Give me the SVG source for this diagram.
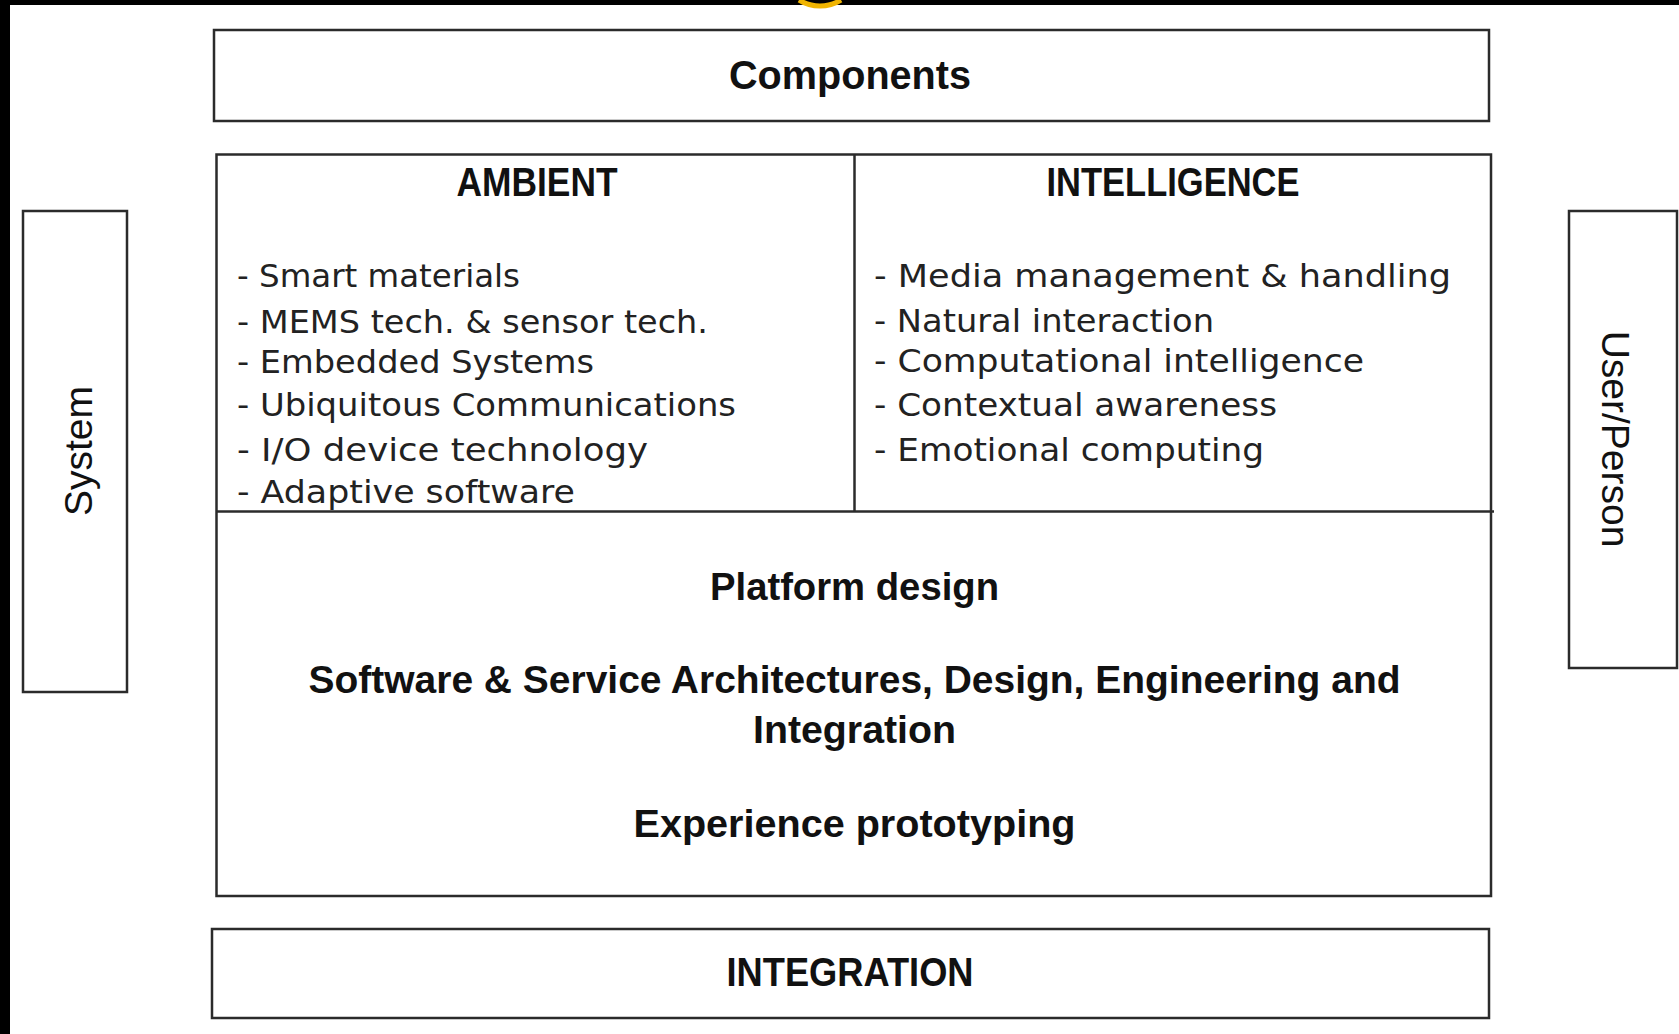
<svg xmlns="http://www.w3.org/2000/svg" width="1679" height="1034" viewBox="0 0 1679 1034">
  <style>
    .box { fill: #ffffff; stroke: #2b2b2b; stroke-width: 2.5; }
    .line { stroke: #2b2b2b; stroke-width: 2.5; fill: none; }
    .head { font-family: "Liberation Sans", Arial, sans-serif; font-weight: bold; font-size: 40px; fill: #111111; text-anchor: middle; }
    .mid { font-family: "Liberation Sans", Arial, sans-serif; font-weight: bold; font-size: 39px; fill: #111111; text-anchor: middle; }
    .item { font-family: "DejaVu Sans", sans-serif; font-size: 32px; fill: #222222; }
    .side { font-family: "Liberation Sans", Arial, sans-serif; font-size: 39px; fill: #111111; text-anchor: middle; }
  </style>
  <rect x="0" y="0" width="1679" height="1034" fill="#ffffff"/>
  <g id="frame">
    <rect x="0" y="0" width="1679" height="5" fill="#000000"/>
    <rect x="0" y="0" width="10" height="1034" fill="#000000"/>
    <path d="M 799 0 A 40 40 0 0 0 841 0" fill="none" stroke="#f0b400" stroke-width="5"/>
  </g>

  <g id="components">
    <rect class="box" x="214" y="30" width="1275" height="91"/>
    <text class="head" x="850" y="89" textLength="242" lengthAdjust="spacingAndGlyphs">Components</text>
  </g>

  <g id="system">
    <rect class="box" x="23" y="211" width="104" height="481"/>
    <text class="side" transform="translate(92,451) rotate(-90)">System</text>
  </g>

  <g id="user-person">
    <rect class="box" x="1569" y="211" width="108" height="457"/>
    <text class="side" transform="translate(1602,439) rotate(90)">User/Person</text>
  </g>

  <g id="main-platform">
    <rect class="box" x="216.5" y="154.5" width="1274.5" height="741.5"/>
    <line class="line" x1="216.5" y1="511.5" x2="1494" y2="511.5"/>
    <line class="line" x1="854.5" y1="154.5" x2="854.5" y2="511.5"/>
  </g>

  <g id="ambient">
    <text class="head" x="537" y="196" textLength="161" lengthAdjust="spacingAndGlyphs">AMBIENT</text>
    <text class="item" x="237" y="287" textLength="283" lengthAdjust="spacingAndGlyphs">- Smart materials</text>
    <text class="item" x="237" y="333" textLength="471" lengthAdjust="spacingAndGlyphs">- MEMS tech. &amp; sensor tech.</text>
    <text class="item" x="237" y="373" textLength="357" lengthAdjust="spacingAndGlyphs">- Embedded Systems</text>
    <text class="item" x="237" y="416" textLength="499" lengthAdjust="spacingAndGlyphs">- Ubiquitous Communications</text>
    <text class="item" x="237" y="461" textLength="411" lengthAdjust="spacingAndGlyphs">- I/O device technology</text>
    <text class="item" x="237" y="503" textLength="338" lengthAdjust="spacingAndGlyphs">- Adaptive software</text>
  </g>

  <g id="intelligence">
    <text class="head" x="1173" y="196" textLength="253" lengthAdjust="spacingAndGlyphs">INTELLIGENCE</text>
    <text class="item" x="874" y="287" textLength="577" lengthAdjust="spacingAndGlyphs">- Media management &amp; handling</text>
    <text class="item" x="874" y="332" textLength="340" lengthAdjust="spacingAndGlyphs">- Natural interaction</text>
    <text class="item" x="874" y="372" textLength="490" lengthAdjust="spacingAndGlyphs">- Computational intelligence</text>
    <text class="item" x="874" y="416" textLength="403" lengthAdjust="spacingAndGlyphs">- Contextual awareness</text>
    <text class="item" x="874" y="461" textLength="390" lengthAdjust="spacingAndGlyphs">- Emotional computing</text>
  </g>

  <g id="platform">
    <text class="mid" x="854.5" y="600" textLength="289" lengthAdjust="spacingAndGlyphs">Platform design</text>
    <text class="mid" x="854.5" y="693" textLength="1092" lengthAdjust="spacingAndGlyphs">Software &amp; Service Architectures, Design, Engineering and</text>
    <text class="mid" x="854.5" y="743" textLength="203" lengthAdjust="spacingAndGlyphs">Integration</text>
    <text class="mid" x="854.5" y="837" textLength="442" lengthAdjust="spacingAndGlyphs">Experience prototyping</text>
  </g>

  <g id="integration">
    <rect class="box" x="212" y="929" width="1277" height="89"/>
    <text class="head" x="850" y="986" textLength="247" lengthAdjust="spacingAndGlyphs">INTEGRATION</text>
  </g>

  <g id="connectors"></g>
</svg>
